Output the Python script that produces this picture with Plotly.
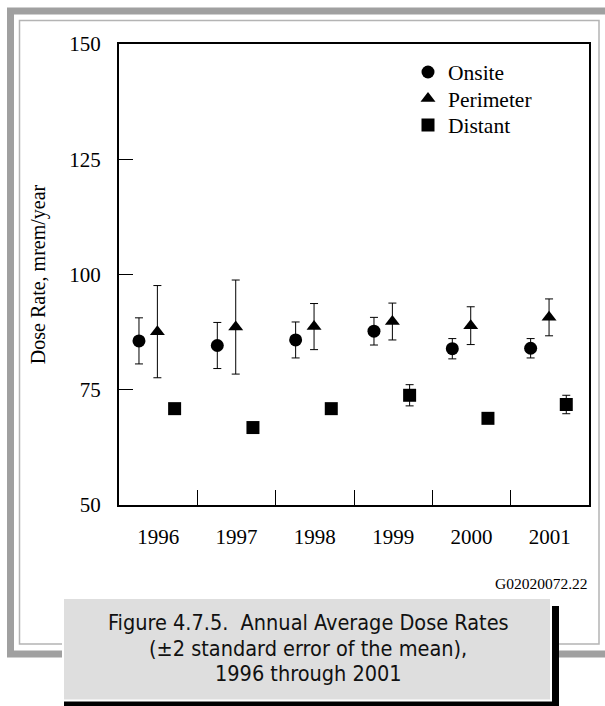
import plotly.graph_objects as go

years = ["1996", "1997", "1998", "1999", "2000", "2001"]
onsite = [85.6, 84.6, 85.8, 87.7, 83.9, 84.0]
onsite_err = [5.0, 5.0, 3.9, 3.0, 2.2, 2.1]
perimeter = [87.6, 88.6, 88.7, 89.8, 88.9, 90.7]
perimeter_err = [10.0, 10.2, 5.0, 4.0, 4.1, 4.0]
distant = [70.9, 66.8, 70.9, 73.8, 68.8, 71.8]
distant_err = [0.4, 0.4, 0.4, 2.3, 0.4, 2.0]
y_ticks = [50, 75, 100, 125, 150]

W, H = 605, 706
L, R, T, B = 119, 589, 44, 505


def px(x):
    return (x - L) / (R - L)


def py(y):
    return (B - y) / (B - T)


idx = list(range(len(years)))
offsets = {"Onsite": -0.245, "Perimeter": -0.01, "Distant": 0.21}
series = [
    ("Onsite", onsite, onsite_err, "circle", "legend", 72),
    ("Perimeter", perimeter, perimeter_err, "triangle-up", "legend2", 98.5),
    ("Distant", distant, distant_err, "square", "legend3", 125),
]

serif = "Liberation Serif, Times New Roman, serif"
narrow = "Liberation Sans Narrow, DejaVu Sans Condensed, Arial Narrow, sans-serif"

fig = go.Figure()
legends = {}
for name, vals, errs, sym, leg, ly in series:
    fig.add_trace(go.Scatter(
        x=[i + offsets[name] for i in idx], y=vals, mode="markers", name=name,
        legend=leg,
        marker=dict(symbol=sym, size=13, color="black"),
        error_y=dict(type="data", array=errs, visible=True, color="black",
                     thickness=1, width=4),
    ))
    legends[leg] = dict(x=px(408), y=py(ly), xanchor="left", yanchor="middle",
                        bgcolor="rgba(0,0,0,0)", borderwidth=0,
                        font=dict(family=serif, size=21.5, color="black"))

shapes = [
    # outer gray frame
    dict(type="rect", xref="paper", yref="paper", x0=px(10.5), x1=px(640),
         y0=py(11), y1=py(654), line=dict(color="#a0a0a0", width=7)),
    # inner thin frame
    dict(type="rect", xref="paper", yref="paper", x0=px(19.5), x1=px(599),
         y0=py(20.5), y1=py(644), line=dict(color="#b4b4b4", width=1.5)),
    # caption shadow
    dict(type="rect", xref="paper", yref="paper", x0=px(64), x1=px(559),
         y0=py(606), y1=py(720), fillcolor="black", line=dict(width=0)),
    # caption box
    dict(type="rect", xref="paper", yref="paper", x0=px(63), x1=px(551),
         y0=py(598), y1=py(700.5), fillcolor="#dedede",
         line=dict(color="white", width=2)),
]

cap_lines = ["Figure 4.7.5.  Annual Average Dose Rates",
             "(±2 standard error of the mean),",
             "1996 through 2001"]
cap_y = [622, 648, 673]
annotations = [
    dict(xref="paper", yref="paper", x=px(308), y=py(yy), text=t,
         showarrow=False, xanchor="center", yanchor="middle",
         font=dict(family=narrow, size=21.5, color="#111111"))
    for t, yy in zip(cap_lines, cap_y)
]
annotations.append(dict(xref="paper", yref="paper", x=px(590), y=py(583),
                        text="G02020072.22", showarrow=False, xanchor="right",
                        yanchor="middle",
                        font=dict(family=serif, size=15.5, color="black")))

fig.update_layout(
    width=W, height=H,
    margin=dict(l=L, r=W - R, t=T, b=H - B),
    paper_bgcolor="white", plot_bgcolor="white",
    showlegend=True,
    shapes=shapes,
    annotations=annotations,
    font=dict(family=serif, color="black"),
    **legends,
)
fig.update_xaxes(
    range=[-0.5, len(years) - 0.5], tickvals=idx, ticktext=years,
    ticks="", showgrid=False, zeroline=False,
    showline=True, linecolor="black", linewidth=2, mirror=True,
    tickfont=dict(family=serif, size=21, color="black"),
    ticklabelstandoff=12,
    minor=dict(tickvals=[i + 0.5 for i in idx[:-1]], ticks="inside",
               ticklen=15, tickwidth=1, tickcolor="black", showgrid=False),
)
fig.update_yaxes(
    range=[50, 150], tickvals=y_ticks, showgrid=False, zeroline=False,
    ticks="inside", ticklen=14, tickwidth=1, tickcolor="black",
    showline=True, linecolor="black", linewidth=2, mirror=True,
    tickfont=dict(family=serif, size=21, color="black"),
    ticklabelstandoff=12,
    title=dict(text="Dose Rate, mrem/year", font=dict(family=serif, size=20, color="black"),
               standoff=18),
)

fig.write_html("out.html", config={"displayModeBar": False},
               post_script="document.body.style.margin='0px';")
